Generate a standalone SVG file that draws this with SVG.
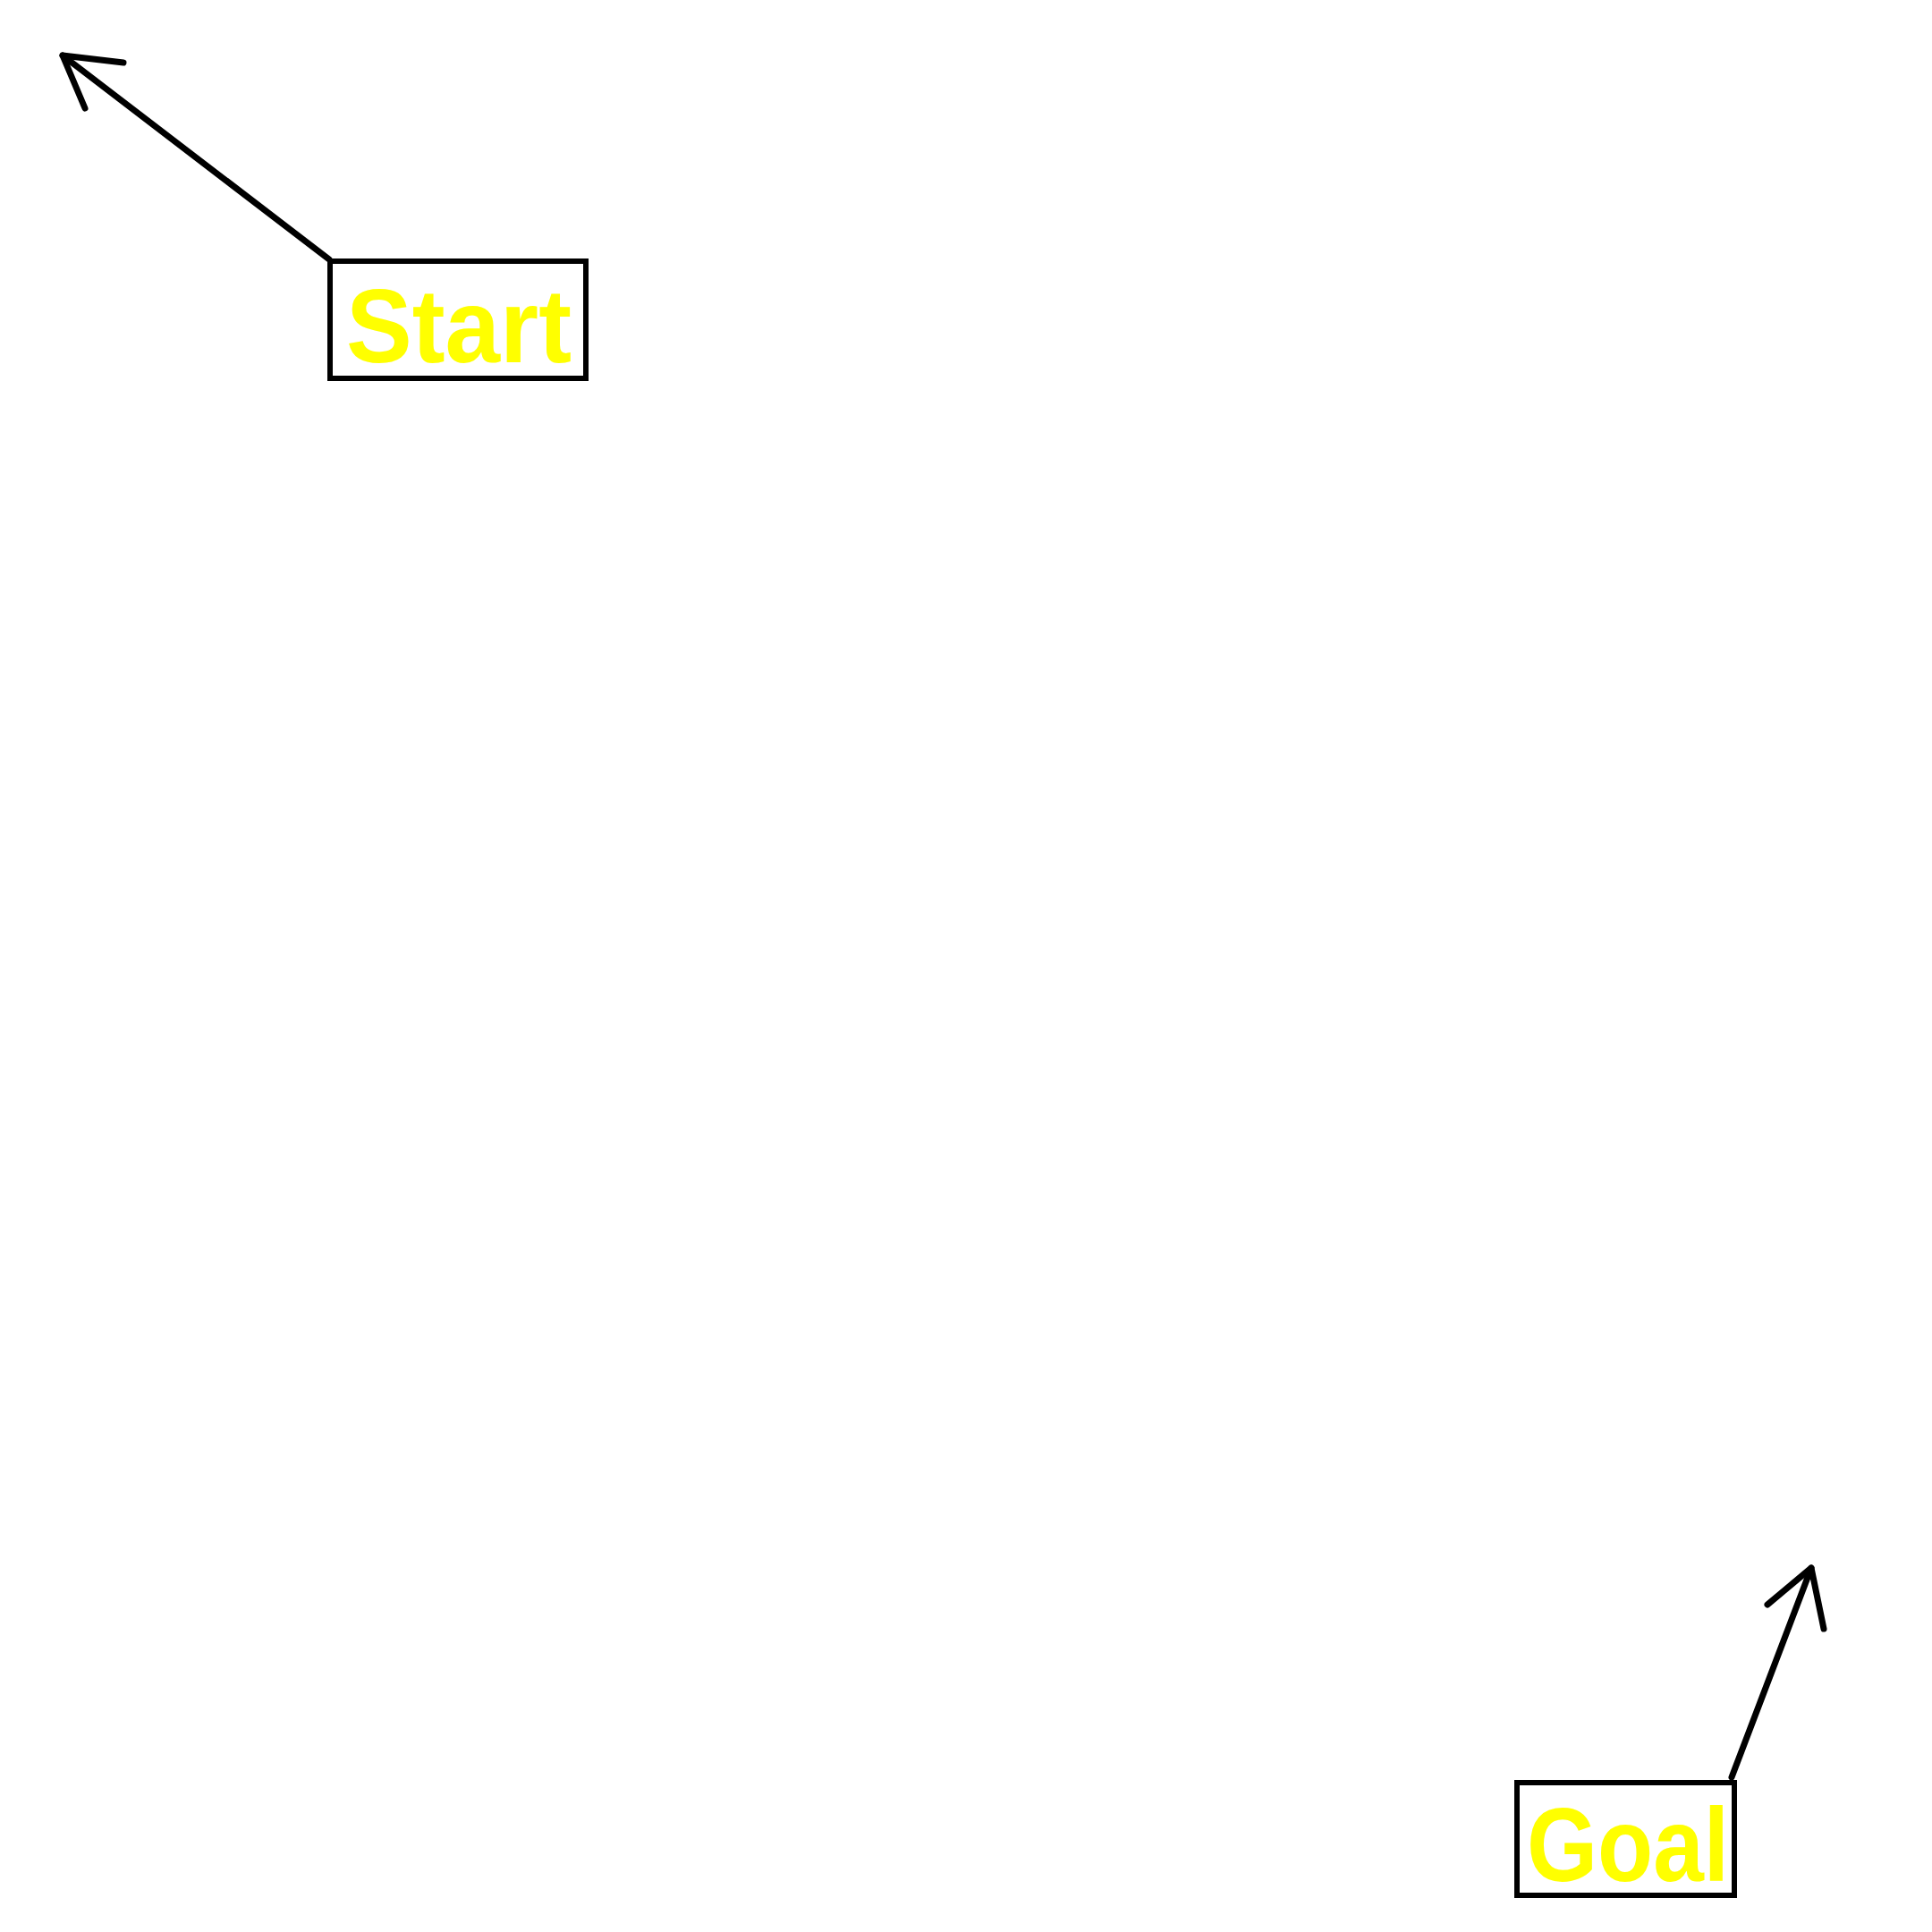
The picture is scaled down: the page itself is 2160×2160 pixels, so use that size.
<svg xmlns="http://www.w3.org/2000/svg" width="2160" height="2160" viewBox="0 0 2160 2160">
<style>
.box{fill:#fff;stroke:#000;stroke-width:6}
.lbl{font-family:"Liberation Sans",Arial,sans-serif;font-weight:bold;font-size:116px;fill:#ffff00}
.conn{fill:none;stroke:#000;stroke-width:7;stroke-linecap:round;stroke-linejoin:round}
</style>
<rect width="2160" height="2160" fill="#fff"/>
<g id="connectors">
<path class="conn" d="M368,290 L70,62"/>
<path class="conn" d="M138,70 L70,62 L95,121"/>
<path class="conn" d="M1936,1987 L2025,1753"/>
<path class="conn" d="M1976,1794 L2025,1753 L2039,1821"/>
</g>
<g id="start">
<rect class="box" x="369" y="292" width="286" height="131"/>
<text class="lbl" x="387" y="405" textLength="252" lengthAdjust="spacingAndGlyphs">Start</text>
</g>
<g id="goal">
<rect class="box" x="1696" y="1993" width="243" height="126"/>
<text class="lbl" x="1707" y="2103" textLength="226" lengthAdjust="spacingAndGlyphs">Goal</text>
</g>
</svg>
